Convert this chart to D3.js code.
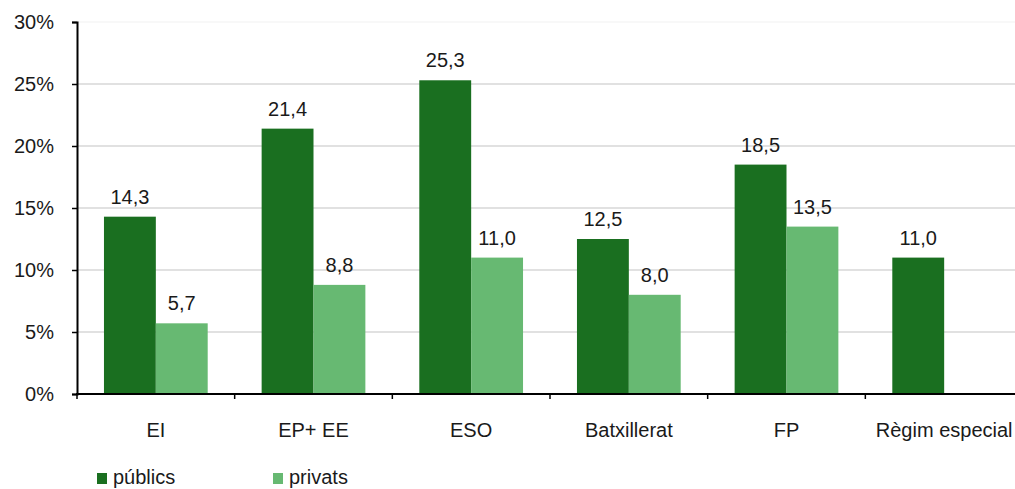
<!DOCTYPE html>
<html>
<head>
<meta charset="utf-8">
<script src="https://cdn.jsdelivr.net/npm/d3@7"></script>
<style>
  body { margin: 0; background: #fff; }
  svg { display: block; font-family: "Liberation Sans", Arial, sans-serif; }
</style>
</head>
<body>
<script>
// categories and series
const categories = ["EI", "EP+ EE", "ESO", "Batxillerat", "FP", "Règim especial"];
const series = ["públics", "privats"];
const publics = [14.3, 21.4, 25.3, 12.5, 18.5, 11.0];
const privats = [5.7, 8.8, 11.0, 8.0, 13.5, null];
const yTicks = [0, 5, 10, 15, 20, 25, 30];

const colors = { "públics": "#1a6f20", "privats": "#67b972" };

const w = 1015, h = 489;
const plotLeft = 77, plotRight = 1023, plotTop = 22, plotBottom = 394;

const svg = d3.select("body").append("svg")
  .attr("width", w)
  .attr("height", h);

const x0 = d3.scaleBand().domain(categories).range([plotLeft, plotRight]).padding(0);
const x1 = d3.scaleBand().domain(series).range([0, x0.bandwidth()])
  .paddingInner(0).paddingOuter(0.52);
const y = d3.scaleLinear().domain([0, 30]).range([plotBottom, plotTop]);

// gridlines
svg.append("g")
  .selectAll("line")
  .data(yTicks.filter(d => d > 0))
  .enter()
  .append("line")
  .attr("x1", plotLeft)
  .attr("x2", w)
  .attr("y1", d => y(d))
  .attr("y2", d => y(d))
  .attr("stroke", d => d === 30 ? "#f2f2f2" : "#c4c4c4")
  .attr("stroke-width", 1.2);

const rows = categories.map((c, i) => ({ cat: c, values: [
  { s: "públics", v: publics[i] },
  { s: "privats", v: privats[i] }
].filter(d => d.v != null) }));

const groups = svg.append("g")
  .selectAll("g")
  .data(rows)
  .enter()
  .append("g")
  .attr("transform", d => "translate(" + x0(d.cat) + ",0)");

groups.selectAll("rect")
  .data(d => d.values)
  .enter()
  .append("rect")
  .attr("x", d => x1(d.s))
  .attr("y", d => y(d.v))
  .attr("width", x1.bandwidth())
  .attr("height", d => plotBottom - y(d.v))
  .attr("fill", d => colors[d.s]);

groups.selectAll("text")
  .data(d => d.values)
  .enter()
  .append("text")
  .attr("x", d => x1(d.s) + x1.bandwidth() / 2)
  .attr("y", d => y(d.v) - 13)
  .attr("text-anchor", "middle")
  .attr("font-size", 20)
  .attr("fill", "#1a1a1a")
  .text(d => d3.format(".1f")(d.v).replace(".", ","));

// y axis
const yAxis = svg.append("g")
  .attr("transform", "translate(" + plotLeft + ",0)")
  .call(d3.axisLeft(y).tickValues(yTicks).tickSize(5).tickPadding(18)
    .tickFormat(d => d + "%"));
yAxis.select(".domain").attr("stroke", "#000").attr("stroke-width", 2);
yAxis.selectAll(".tick line").attr("stroke", "#000").attr("stroke-width", 1.5);
yAxis.selectAll(".tick text")
  .attr("font-size", 20)
  .attr("fill", "#1a1a1a")
  .attr("font-family", "Liberation Sans, Arial, sans-serif");

// x axis
const xTickScale = d3.scaleLinear().domain([0, categories.length]).range([plotLeft, plotRight]);
svg.append("line")
  .attr("x1", plotLeft - 1).attr("x2", w)
  .attr("y1", plotBottom).attr("y2", plotBottom)
  .attr("stroke", "#000").attr("stroke-width", 2);
svg.append("g")
  .selectAll("line")
  .data(d3.range(categories.length + 1))
  .enter()
  .append("line")
  .attr("x1", d => xTickScale(d))
  .attr("x2", d => xTickScale(d))
  .attr("y1", plotBottom)
  .attr("y2", plotBottom + 5)
  .attr("stroke", "#000")
  .attr("stroke-width", 1.5);

svg.append("g")
  .selectAll("text")
  .data(categories)
  .enter()
  .append("text")
  .attr("x", d => x0(d) + x0.bandwidth() / 2)
  .attr("y", 437)
  .attr("text-anchor", "middle")
  .attr("font-size", 20)
  .attr("fill", "#1a1a1a")
  .text(d => d);

// legend
const legend = svg.append("g")
  .selectAll("g")
  .data(series)
  .enter()
  .append("g")
  .attr("transform", (d, i) => "translate(" + (97 + i * 176) + ",473)");
legend.append("rect")
  .attr("width", 10)
  .attr("height", 11)
  .attr("fill", d => colors[d]);
legend.append("text")
  .attr("x", 16)
  .attr("y", 11)
  .attr("font-size", 20)
  .attr("fill", "#1a1a1a")
  .text(d => d);
</script>
</body>
</html>
